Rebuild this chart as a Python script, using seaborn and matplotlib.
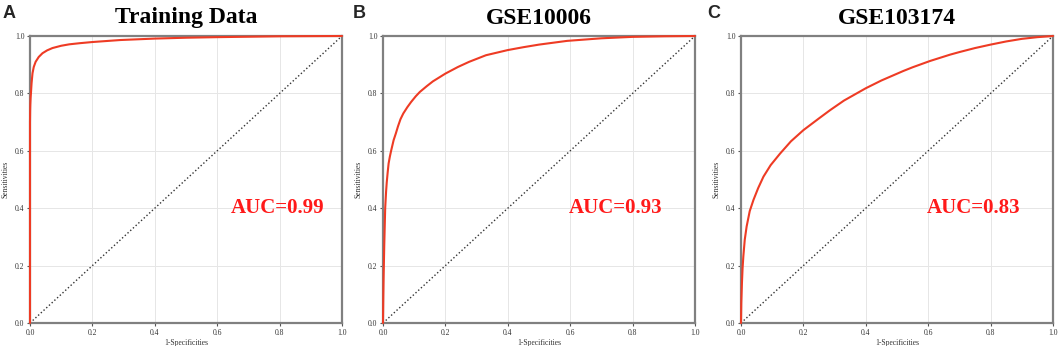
import numpy as np
import pandas as pd
import matplotlib
matplotlib.use("Agg")
import matplotlib.pyplot as plt
import seaborn as sns

# ROC points
fpr_train = [0, 0, 0.0005, 0.001, 0.002, 0.003, 0.005, 0.008, 0.012, 0.018, 0.028, 0.04, 0.055,
             0.072, 0.1, 0.126, 0.16, 0.2, 0.29, 0.4, 0.5, 0.6, 0.8, 1.0]
tpr_train = [0, 0.70, 0.74, 0.76, 0.785, 0.80, 0.835, 0.87, 0.892, 0.91, 0.927, 0.94, 0.95,
             0.958, 0.966, 0.971, 0.975, 0.979, 0.986, 0.991, 0.994, 0.996, 0.999, 1.0]

fpr_gse10006 = [0, 0.001, 0.002, 0.004, 0.007, 0.01, 0.012, 0.015, 0.018, 0.022, 0.026, 0.034,
                0.041, 0.048, 0.056, 0.065, 0.078, 0.09, 0.105, 0.118, 0.14, 0.16, 0.2, 0.24,
                0.276, 0.33, 0.4, 0.45, 0.5, 0.59, 0.7, 0.8, 0.9, 1.0]
tpr_gse10006 = [0, 0.09, 0.16, 0.27, 0.40, 0.46, 0.49, 0.525, 0.556, 0.58, 0.60, 0.637,
                0.66, 0.685, 0.71, 0.73, 0.752, 0.77, 0.79, 0.805, 0.825, 0.842, 0.869, 0.892,
                0.91, 0.933, 0.951, 0.961, 0.97, 0.983, 0.992, 0.997, 0.999, 1.0]

fpr_gse103174 = [0, 0.001, 0.003, 0.005, 0.0075, 0.012, 0.018, 0.028, 0.04, 0.055, 0.072, 0.095,
                 0.125, 0.16, 0.2, 0.25, 0.286, 0.33, 0.4, 0.45, 0.52, 0.55, 0.606, 0.67, 0.7,
                 0.75, 0.8, 0.85, 0.9, 0.95, 1.0]
tpr_gse103174 = [0, 0.07, 0.139, 0.19, 0.232, 0.29, 0.336, 0.39, 0.429, 0.47, 0.51, 0.55,
                 0.59, 0.633, 0.672, 0.713, 0.742, 0.775, 0.818, 0.845, 0.878, 0.891, 0.913, 0.935, 0.944,
                 0.958, 0.97, 0.981, 0.99, 0.996, 1.0]

titles = ["Training Data", "GSE10006", "GSE103174"]
panel_letters = ["A", "B", "C"]
auc_labels = ["AUC=0.99", "AUC=0.93", "AUC=0.83"]
auc_x = [0.795, 0.747, 0.747]
ticks = [0.0, 0.2, 0.4, 0.6, 0.8, 1.0]
diag = [0, 1]

curves = [(fpr_train, tpr_train), (fpr_gse10006, tpr_gse10006), (fpr_gse103174, tpr_gse103174)]

sns.set_theme(style="whitegrid")
plt.rcParams['font.family'] = ['Liberation Serif', 'DejaVu Serif']

fig = plt.figure(figsize=(10.59, 3.46), dpi=100)
lefts = [30 / 1059, 383 / 1059, 741 / 1059]
letter_x = [3 / 1059, 353 / 1059, 707 / 1059]

for i, (fpr, tpr) in enumerate(curves):
    ax = fig.add_axes([lefts[i], 23 / 346, 312 / 1059, 287 / 346])
    df = pd.DataFrame({'fpr': fpr, 'tpr': tpr})

    ax.plot(diag, diag, linestyle=':', color='#333333', linewidth=1.0)
    sns.lineplot(data=df, x='fpr', y='tpr', sort=False, estimator=None,
                 color='#ee3b24', linewidth=1.5, ax=ax, clip_on=False, zorder=5)

    ax.set_xlim(0, 1)
    ax.set_ylim(0, 1)
    ax.set_xticks(ticks)
    ax.set_yticks(ticks)
    ax.set_xticklabels([f"{t:.1f}" for t in ticks])
    ax.set_yticklabels([f"{t:.1f}" for t in ticks])
    ax.tick_params(axis='both', labelsize=5.5, length=2.5, width=0.8, color='#555555',
                   left=True, bottom=True, pad=1.5, labelcolor='#333333')
    ax.grid(True, color='#e6e6e6', linewidth=0.7)
    for sp in ax.spines.values():
        sp.set_visible(True)
        sp.set_color('#808080')
        sp.set_linewidth(1.6)
    ax.set_xlabel('1-Specificities', fontsize=5.5, labelpad=1.5, color='#333333')
    ax.set_ylabel('Sensitivities', fontsize=5.5, labelpad=4, color='#333333')
    ax.set_title(titles[i], fontsize=17, fontweight='bold', pad=9, color='black')

    ax.text(auc_x[i], 0.40, auc_labels[i], color='#ff1a1a', fontsize=15, fontweight='bold',
            ha='center', va='center', transform=ax.transAxes)

    fig.text(letter_x[i], 0.948, panel_letters[i], fontsize=13, fontweight='bold',
             family=['Liberation Sans', 'DejaVu Sans'], ha='left', va='baseline')

fig.savefig('out.png', dpi=100)
